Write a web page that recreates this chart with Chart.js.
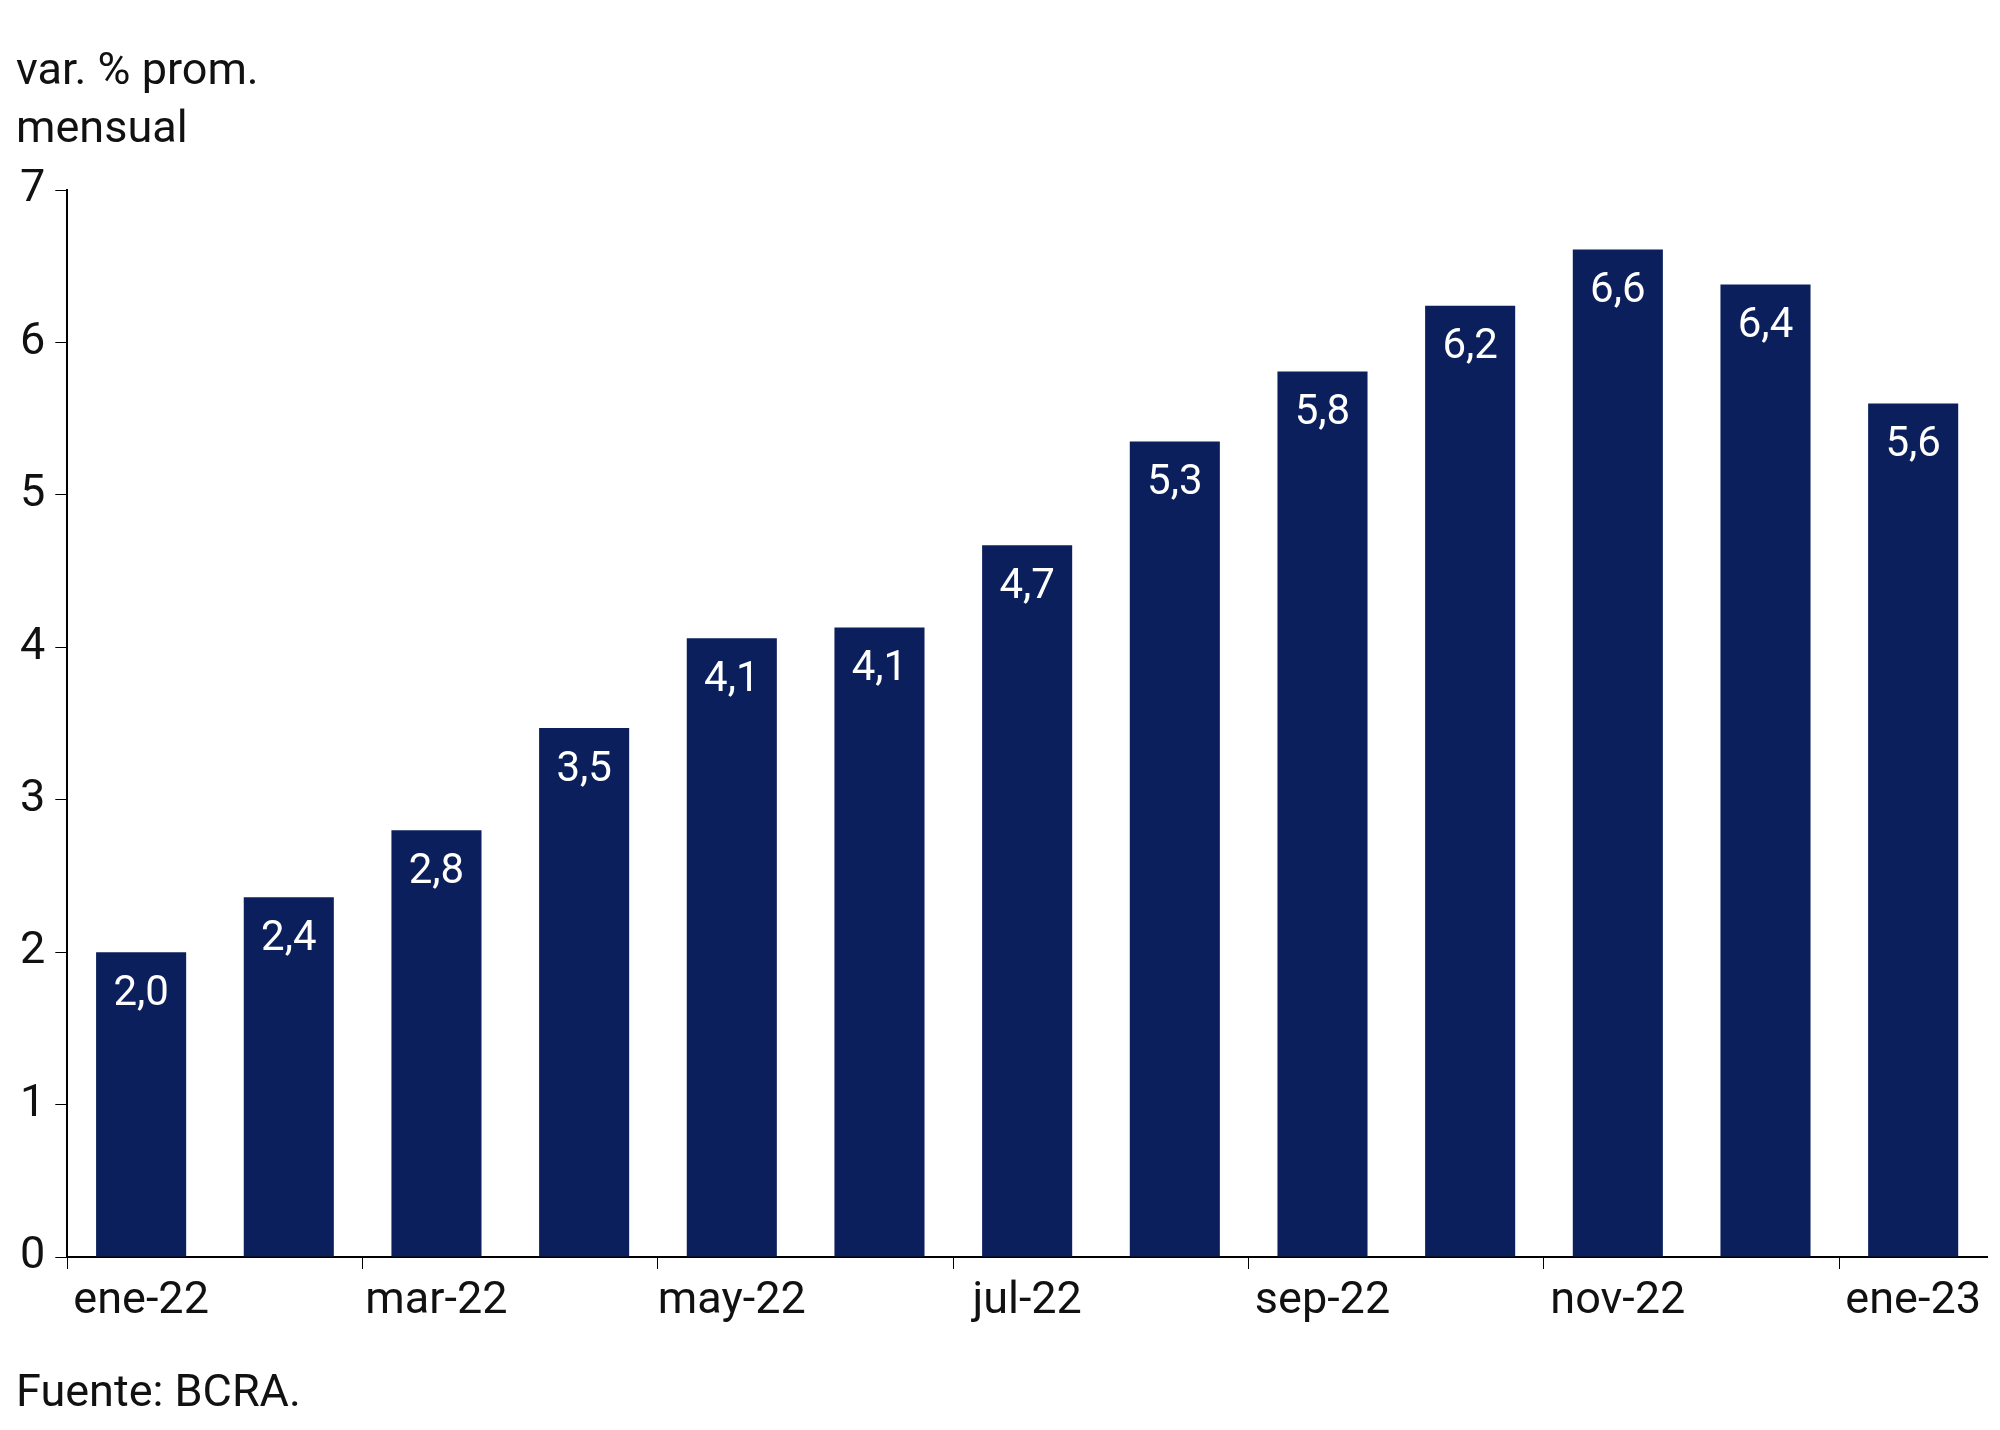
<!DOCTYPE html>
<html><head><meta charset="utf-8">
<script src="https://cdn.jsdelivr.net/npm/chart.js@4"></script>
<style>
body{margin:0;background:#fff;font-family:Roboto,sans-serif;}
#wrap{position:relative;width:2000px;height:1430px;}
canvas{position:absolute;left:0;top:0;}
.txt{position:absolute;left:16px;font-size:45px;color:#111;line-height:58px;}
</style></head><body>
<div id="wrap">
<canvas id="chart" width="2000" height="1430"></canvas>
<div class="txt" style="top:40px">var. % prom.<br>mensual</div>
<div class="txt" style="top:1362px">Fuente: BCRA.</div>
</div>
<script>
const categories = ["ene-22","feb-22","mar-22","abr-22","may-22","jun-22","jul-22","ago-22","sep-22","oct-22","nov-22","dic-22","ene-23"];
const values = [2.0, 2.36, 2.8, 3.47, 4.06, 4.13, 4.67, 5.35, 5.81, 6.24, 6.61, 6.38, 5.6];
const yTicks = [0,1,2,3,4,5,6,7];

const valueLabels = {
  id: "valueLabels",
  afterDatasetsDraw(chart) {
    const c = chart.ctx;
    c.save();
    c.fillStyle = "#fff";
    c.font = "42px Roboto";
    c.textAlign = "center";
    c.textBaseline = "middle";
    chart.getDatasetMeta(0).data.forEach((bar, i) => {
      c.fillText(values[i].toFixed(1).replace(".", ","), bar.x, bar.y + 42);
    });
    c.restore();
  }
};

new Chart(document.getElementById("chart").getContext("2d"), {
  type: "bar",
  data: {
    labels: categories,
    datasets: [{ data: values, backgroundColor: "#0b1f5c", categoryPercentage: 1, barPercentage: 0.61 }]
  },
  options: {
    responsive: false,
    animation: false,
    layout: { padding: { left: 10, right: 13, top: 190, bottom: 95 } },
    plugins: { legend: { display: false }, tooltip: { enabled: false } },
    scales: {
      x: {
        offset: true,
        border: { color: "#000", width: 2 },
        grid: {
          offset: true, drawOnChartArea: false, tickLength: 12,
          color: ctx => ctx.index % 2 === 0 ? "#000" : "rgba(0,0,0,0)"
        },
        ticks: {
          autoSkip: false, maxRotation: 0, color: "#111", font: { size: 45, family: "Roboto" }, padding: 6,
          callback: (v, i) => i % 2 === 0 ? categories[i] : ""
        }
      },
      y: {
        min: 0, max: 7,
        afterBuildTicks: axis => { axis.ticks = yTicks.map(v => ({ value: v })); },
        border: { color: "#000", width: 2 },
        grid: { drawOnChartArea: false, tickLength: 12, color: "#000" },
        ticks: { color: "#111", font: { size: 45, family: "Roboto" }, padding: 10 }
      }
    }
  },
  plugins: [valueLabels]
});
</script>
</body></html>
